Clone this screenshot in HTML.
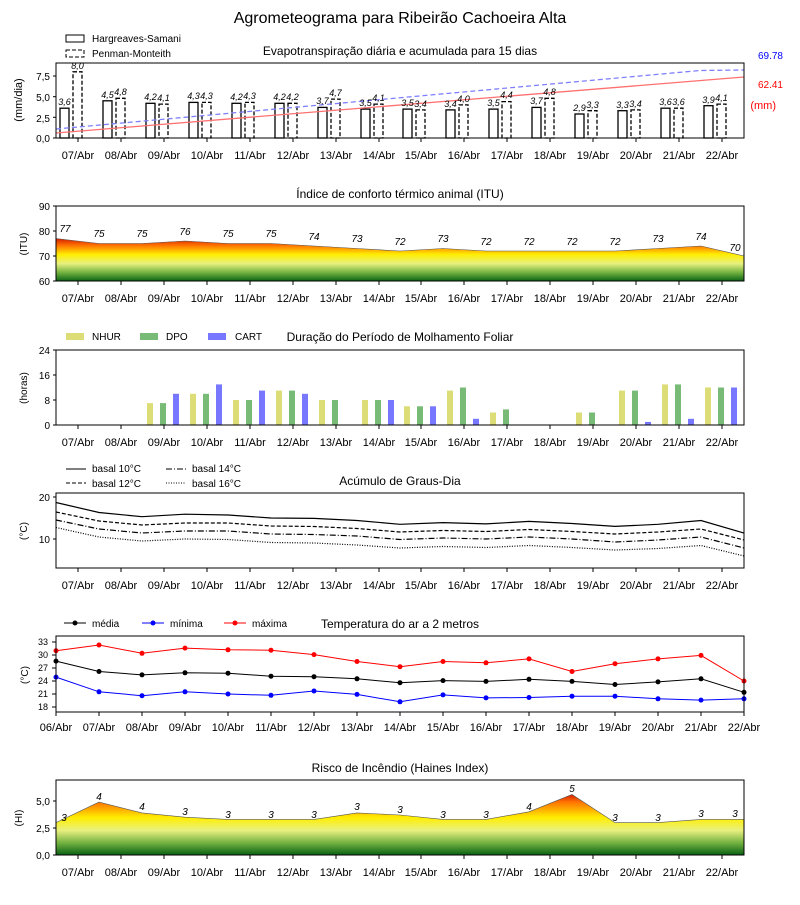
<!DOCTYPE html>
<html><head><meta charset="utf-8"><style>
body{margin:0;background:#fff}
svg{font-family:"Liberation Sans","DejaVu Sans",sans-serif}
</style></head><body>
<svg width="800" height="900" viewBox="0 0 800 900" xmlns="http://www.w3.org/2000/svg">
<defs>
<linearGradient id="g2" gradientUnits="userSpaceOnUse" x1="0" y1="236" x2="0" y2="282">
<stop offset="0" stop-color="#c00000"/><stop offset="0.2" stop-color="#ff7000"/><stop offset="0.4" stop-color="#ffee00"/><stop offset="0.6" stop-color="#e8f080"/><stop offset="0.8" stop-color="#70b040"/><stop offset="1" stop-color="#005a10"/>
</linearGradient>
<linearGradient id="g6" gradientUnits="userSpaceOnUse" x1="0" y1="792" x2="0" y2="856">
<stop offset="0" stop-color="#c00000"/><stop offset="0.15" stop-color="#ff7000"/><stop offset="0.4" stop-color="#ffee00"/><stop offset="0.6" stop-color="#e8f080"/><stop offset="0.8" stop-color="#70b040"/><stop offset="1" stop-color="#005a10"/>
</linearGradient>
</defs>
<text x="400" y="23" font-size="16" text-anchor="middle">Agrometeograma para Ribeirão Cachoeira Alta</text>

<!-- Panel 1 -->
<text x="400" y="55" font-size="12" text-anchor="middle">Evapotranspiração diária e acumulada para 15 dias</text>
<rect x="66" y="35" width="18" height="7" fill="none" stroke="#000"/>
<text x="92" y="42" font-size="10">Hargreaves-Samani</text>
<rect x="66" y="50" width="18" height="7" fill="none" stroke="#000" stroke-dasharray="4,2"/>
<text x="92" y="57" font-size="10">Penman-Monteith</text>
<g fill="#fff" stroke="#000" stroke-width="1.3">
<rect x="60" y="108.2" width="9" height="29.8"/><rect x="103" y="100.8" width="9" height="37.2"/><rect x="146" y="103.3" width="9" height="34.7"/><rect x="189" y="102.4" width="9" height="35.6"/><rect x="232" y="103.3" width="9" height="34.7"/><rect x="275" y="103.3" width="9" height="34.7"/><rect x="318" y="107.4" width="9" height="30.6"/><rect x="361" y="109.1" width="9" height="28.9"/><rect x="403" y="109.1" width="9" height="28.9"/><rect x="446" y="109.9" width="9" height="28.1"/><rect x="489" y="109.1" width="9" height="28.9"/><rect x="532" y="107.4" width="9" height="30.6"/><rect x="575" y="114" width="9" height="24"/><rect x="618" y="110.7" width="9" height="27.3"/><rect x="661" y="108.2" width="9" height="29.8"/><rect x="704" y="105.7" width="9" height="32.3"/>
</g>
<g fill="#fff" stroke="#000" stroke-width="1.3" stroke-dasharray="4,2">
<rect x="73" y="71.8" width="9" height="66.2"/><rect x="116" y="98.3" width="9" height="39.7"/><rect x="159" y="104.1" width="9" height="33.9"/><rect x="202" y="102.4" width="9" height="35.6"/><rect x="245" y="102.4" width="9" height="35.6"/><rect x="288" y="103.3" width="9" height="34.7"/><rect x="331" y="99.1" width="9" height="38.9"/><rect x="374" y="104.1" width="9" height="33.9"/><rect x="416" y="109.9" width="9" height="28.1"/><rect x="459" y="104.9" width="9" height="33.1"/><rect x="502" y="101.6" width="9" height="36.4"/><rect x="545" y="98.3" width="9" height="39.7"/><rect x="588" y="110.7" width="9" height="27.3"/><rect x="631" y="109.9" width="9" height="28.1"/><rect x="674" y="108.2" width="9" height="29.8"/><rect x="717" y="104.1" width="9" height="33.9"/>
</g>
<polyline points="56,133 744,77" fill="none" stroke="#ff7070" stroke-width="1.3"/>
<polyline points="56,129 700,70.5 744,70" fill="none" stroke="#8080ff" stroke-width="1.3" stroke-dasharray="5,3"/>
<g font-size="9" font-style="italic" text-anchor="middle">
<text x="64.5" y="105">3,6</text><text x="107.5" y="98">4,5</text><text x="150.5" y="100">4,2</text><text x="193.5" y="99">4,3</text><text x="236.5" y="100">4,2</text><text x="279.5" y="100">4,2</text><text x="322.5" y="104">3,7</text><text x="365.5" y="106">3,5</text><text x="407.5" y="106">3,5</text><text x="450.5" y="107">3,4</text><text x="493.5" y="106">3,5</text><text x="536.5" y="104">3,7</text><text x="579.5" y="111">2,9</text><text x="622.5" y="108">3,3</text><text x="665.5" y="105">3,6</text><text x="708.5" y="103">3,9</text>
<text x="77.5" y="69">8,0</text><text x="120.5" y="95">4,8</text><text x="163.5" y="101">4,1</text><text x="206.5" y="99">4,3</text><text x="249.5" y="99">4,3</text><text x="292.5" y="100">4,2</text><text x="335.5" y="96">4,7</text><text x="378.5" y="101">4,1</text><text x="420.5" y="107">3,4</text><text x="463.5" y="102">4,0</text><text x="506.5" y="98">4,4</text><text x="549.5" y="95">4,8</text><text x="592.5" y="108">3,3</text><text x="635.5" y="107">3,4</text><text x="678.5" y="105">3,6</text><text x="721.5" y="101">4,1</text>
</g>
<rect x="56" y="63" width="688" height="75" fill="none" stroke="#000"/>
<g font-size="10" text-anchor="end"><text x="50" y="80">7,5</text><text x="50" y="101">5,0</text><text x="50" y="122">2,5</text><text x="50" y="142">0,0</text></g>
<g stroke="#000"><line x1="53" y1="76" x2="56" y2="76"/><line x1="53" y1="96.7" x2="56" y2="96.7"/><line x1="53" y1="117.3" x2="56" y2="117.3"/><line x1="53" y1="138" x2="56" y2="138"/></g>
<text transform="translate(22,100) rotate(-90)" font-size="11" text-anchor="middle">(mm/dia)</text>
<text x="783" y="59" font-size="10" fill="#0000ff" text-anchor="end">69.78</text>
<text x="783" y="88" font-size="10" fill="#ff0000" text-anchor="end">62.41</text>
<text x="776" y="109" font-size="11" fill="#ff0000" text-anchor="end">(mm)</text>

<!-- Panel 2 -->
<text x="400" y="198" font-size="12" text-anchor="middle">Índice de conforto térmico animal (ITU)</text>
<polygon points="56,238.5 99,243.5 142,243.5 185,241 228,243.5 271,243.5 314,246 357,248.5 400,251 443,248.5 486,251 529,251 572,251 615,251 658,248.5 701,246 744,256 744,281 56,281" fill="url(#g2)"/>
<polyline points="56,238.5 99,243.5 142,243.5 185,241 228,243.5 271,243.5 314,246 357,248.5 400,251 443,248.5 486,251 529,251 572,251 615,251 658,248.5 701,246 744,256" fill="none" stroke="#555" stroke-width="0.6"/>
<g font-size="10" font-style="italic" text-anchor="middle">
<text x="65" y="232">77</text><text x="99" y="237">75</text><text x="142" y="237">75</text><text x="185" y="235">76</text><text x="228" y="237">75</text><text x="271" y="237">75</text><text x="314" y="240">74</text><text x="357" y="242">73</text><text x="400" y="245">72</text><text x="443" y="242">73</text><text x="486" y="245">72</text><text x="529" y="245">72</text><text x="572" y="245">72</text><text x="615" y="245">72</text><text x="658" y="242">73</text><text x="701" y="240">74</text><text x="735" y="251">70</text>
</g>
<rect x="56" y="206" width="688" height="75" fill="none" stroke="#000"/>
<g font-size="10" text-anchor="end"><text x="50" y="210">90</text><text x="50" y="235">80</text><text x="50" y="260">70</text><text x="50" y="285">60</text></g>
<g stroke="#000"><line x1="53" y1="206" x2="56" y2="206"/><line x1="53" y1="231" x2="56" y2="231"/><line x1="53" y1="256" x2="56" y2="256"/><line x1="53" y1="281" x2="56" y2="281"/></g>
<text transform="translate(27,244) rotate(-90)" font-size="10" text-anchor="middle">(ITU)</text>

<!-- Panel 3 -->
<text x="400" y="341" font-size="12" text-anchor="middle">Duração do Período de Molhamento Foliar</text>
<rect x="66" y="333" width="18" height="7" fill="#dddd77"/><text x="92" y="340" font-size="10">NHUR</text>
<rect x="140" y="333" width="18" height="7" fill="#77bb77"/><text x="166" y="340" font-size="10">DPO</text>
<rect x="208" y="333" width="18" height="7" fill="#7777ff"/><text x="235" y="340" font-size="10">CART</text>
<g fill="#dddd77">
<rect x="147" y="403.1" width="6" height="21.9"/><rect x="190" y="393.8" width="6" height="31.2"/><rect x="233" y="400" width="6" height="25"/><rect x="276" y="390.6" width="6" height="34.4"/><rect x="319" y="400" width="6" height="25"/><rect x="362" y="400" width="6" height="25"/><rect x="404" y="406.3" width="6" height="18.7"/><rect x="447" y="390.6" width="6" height="34.4"/><rect x="490" y="412.5" width="6" height="12.5"/><rect x="576" y="412.5" width="6" height="12.5"/><rect x="619" y="390.6" width="6" height="34.4"/><rect x="662" y="384.4" width="6" height="40.6"/><rect x="705" y="387.5" width="6" height="37.5"/>
</g>
<g fill="#77bb77">
<rect x="160" y="403.1" width="6" height="21.9"/><rect x="203" y="393.8" width="6" height="31.2"/><rect x="246" y="400" width="6" height="25"/><rect x="289" y="390.6" width="6" height="34.4"/><rect x="332" y="400" width="6" height="25"/><rect x="375" y="400" width="6" height="25"/><rect x="417" y="406.3" width="6" height="18.7"/><rect x="460" y="387.5" width="6" height="37.5"/><rect x="503" y="409.4" width="6" height="15.6"/><rect x="589" y="412.5" width="6" height="12.5"/><rect x="632" y="390.6" width="6" height="34.4"/><rect x="675" y="384.4" width="6" height="40.6"/><rect x="718" y="387.5" width="6" height="37.5"/>
</g>
<g fill="#7777ff">
<rect x="173" y="393.8" width="6" height="31.2"/><rect x="216" y="384.4" width="6" height="40.6"/><rect x="259" y="390.6" width="6" height="34.4"/><rect x="302" y="393.8" width="6" height="31.2"/><rect x="388" y="400" width="6" height="25"/><rect x="430" y="406.3" width="6" height="18.7"/><rect x="473" y="418.8" width="6" height="6.2"/><rect x="645" y="421.9" width="6" height="3.1"/><rect x="688" y="418.8" width="6" height="6.2"/><rect x="731" y="387.5" width="6" height="37.5"/>
</g>
<rect x="56" y="350" width="688" height="75" fill="none" stroke="#000"/>
<g font-size="10" text-anchor="end"><text x="50" y="354">24</text><text x="50" y="379">16</text><text x="50" y="404">8</text><text x="50" y="429">0</text></g>
<g stroke="#000"><line x1="53" y1="350" x2="56" y2="350"/><line x1="53" y1="375" x2="56" y2="375"/><line x1="53" y1="400" x2="56" y2="400"/><line x1="53" y1="425" x2="56" y2="425"/></g>
<text transform="translate(27,388) rotate(-90)" font-size="10" text-anchor="middle">(horas)</text>

<!-- Panel 4 -->
<text x="400" y="485" font-size="12" text-anchor="middle">Acúmulo de Graus-Dia</text>
<line x1="66" y1="469" x2="86" y2="469" stroke="#000"/><text x="92" y="472" font-size="10">basal 10°C</text>
<line x1="66" y1="483" x2="86" y2="483" stroke="#000" stroke-dasharray="4,2"/><text x="92" y="487" font-size="10">basal 12°C</text>
<line x1="166" y1="469" x2="186" y2="469" stroke="#000" stroke-dasharray="6,2,1,2"/><text x="192" y="472" font-size="10">basal 14°C</text>
<line x1="166" y1="483" x2="186" y2="483" stroke="#000" stroke-dasharray="1,1.5"/><text x="192" y="487" font-size="10">basal 16°C</text>
<g fill="none" stroke="#000" stroke-width="1.2">
<polyline points="56,502.5 99,512.5 142,516.7 185,514.2 228,515 271,518 314,518.4 357,520.5 400,524.3 443,522.6 486,523.9 529,521.4 572,523.5 615,526.4 658,524.3 701,520.5 744,533.1"/>
<polyline stroke-dasharray="4,2" points="56,512 99,521 142,525 185,523 228,523 271,526 314,526.5 357,528.5 400,532 443,530.5 486,531.5 529,529.5 572,531.5 615,534 658,532 701,529 744,540"/>
<polyline stroke-dasharray="6,2,1,2" points="56,520 99,529 142,533 185,531 228,531 271,534 314,534.5 357,536 400,539.5 443,538 486,539 529,537 572,539 615,542 658,540 701,537 744,548"/>
<polyline stroke-dasharray="1,1.5" points="56,527.5 99,537 142,541 185,539 228,539.5 271,542.5 314,543 357,545 400,548 443,546.5 486,547.5 529,545.5 572,547.5 615,550 658,548.5 701,545.5 744,556"/>
</g>
<rect x="56" y="493" width="688" height="75" fill="none" stroke="#000"/>
<g font-size="10" text-anchor="end"><text x="50" y="501">20</text><text x="50" y="543">10</text></g>
<g stroke="#000"><line x1="53" y1="497" x2="56" y2="497"/><line x1="53" y1="539" x2="56" y2="539"/></g>
<text transform="translate(27,531) rotate(-90)" font-size="10" text-anchor="middle">(°C)</text>

<!-- Panel 5 -->
<text x="400" y="628" font-size="12" text-anchor="middle">Temperatura do ar a 2 metros</text>
<line x1="64" y1="623" x2="86" y2="623" stroke="#000"/><circle cx="75" cy="623" r="2.5"/><text x="92" y="627" font-size="10">média</text>
<line x1="142" y1="623" x2="164" y2="623" stroke="#00f"/><circle cx="153" cy="623" r="2.5" fill="#00f"/><text x="170" y="627" font-size="10">mínima</text>
<line x1="224" y1="623" x2="246" y2="623" stroke="#f00"/><circle cx="235" cy="623" r="2.5" fill="#f00"/><text x="252" y="627" font-size="10">máxima</text>
<g fill="none" stroke-width="1">
<polyline stroke="#f00" points="56,650.7 99,645 142,653.3 185,648.1 228,649.8 271,650.2 314,654.6 357,661.5 400,666.7 443,661.5 486,662.8 529,658.9 572,671.5 615,663.7 658,658.9 701,655.4 744,681"/>
<polyline stroke="#000" points="56,661.1 99,671.5 142,674.9 185,672.8 228,673.2 271,676.2 314,676.7 357,678.8 400,682.7 443,680.6 486,681.4 529,679.3 572,681.4 615,684.5 658,681.9 701,678.8 744,692.3"/>
<polyline stroke="#00f" points="56,677.1 99,691.8 142,695.7 185,691.8 228,694 271,695.3 314,691 357,694.4 400,701.8 443,694.9 486,697.9 529,697.5 572,696.2 615,696.2 658,698.8 701,700.1 744,698.8"/>
</g>
<g fill="#f00"><circle cx="56" cy="650.7" r="2.5"/><circle cx="99" cy="645" r="2.5"/><circle cx="142" cy="653.3" r="2.5"/><circle cx="185" cy="648.1" r="2.5"/><circle cx="228" cy="649.8" r="2.5"/><circle cx="271" cy="650.2" r="2.5"/><circle cx="314" cy="654.6" r="2.5"/><circle cx="357" cy="661.5" r="2.5"/><circle cx="400" cy="666.7" r="2.5"/><circle cx="443" cy="661.5" r="2.5"/><circle cx="486" cy="662.8" r="2.5"/><circle cx="529" cy="658.9" r="2.5"/><circle cx="572" cy="671.5" r="2.5"/><circle cx="615" cy="663.7" r="2.5"/><circle cx="658" cy="658.9" r="2.5"/><circle cx="701" cy="655.4" r="2.5"/><circle cx="744" cy="681" r="2.5"/></g>
<g fill="#000"><circle cx="56" cy="661.1" r="2.5"/><circle cx="99" cy="671.5" r="2.5"/><circle cx="142" cy="674.9" r="2.5"/><circle cx="185" cy="672.8" r="2.5"/><circle cx="228" cy="673.2" r="2.5"/><circle cx="271" cy="676.2" r="2.5"/><circle cx="314" cy="676.7" r="2.5"/><circle cx="357" cy="678.8" r="2.5"/><circle cx="400" cy="682.7" r="2.5"/><circle cx="443" cy="680.6" r="2.5"/><circle cx="486" cy="681.4" r="2.5"/><circle cx="529" cy="679.3" r="2.5"/><circle cx="572" cy="681.4" r="2.5"/><circle cx="615" cy="684.5" r="2.5"/><circle cx="658" cy="681.9" r="2.5"/><circle cx="701" cy="678.8" r="2.5"/><circle cx="744" cy="692.3" r="2.5"/></g>
<g fill="#00f"><circle cx="56" cy="677.1" r="2.5"/><circle cx="99" cy="691.8" r="2.5"/><circle cx="142" cy="695.7" r="2.5"/><circle cx="185" cy="691.8" r="2.5"/><circle cx="228" cy="694" r="2.5"/><circle cx="271" cy="695.3" r="2.5"/><circle cx="314" cy="691" r="2.5"/><circle cx="357" cy="694.4" r="2.5"/><circle cx="400" cy="701.8" r="2.5"/><circle cx="443" cy="694.9" r="2.5"/><circle cx="486" cy="697.9" r="2.5"/><circle cx="529" cy="697.5" r="2.5"/><circle cx="572" cy="696.2" r="2.5"/><circle cx="615" cy="696.2" r="2.5"/><circle cx="658" cy="698.8" r="2.5"/><circle cx="701" cy="700.1" r="2.5"/><circle cx="744" cy="698.8" r="2.5"/></g>
<rect x="56" y="636" width="688" height="76" fill="none" stroke="#000"/>
<g font-size="9" text-anchor="end"><text x="48" y="645">33</text><text x="48" y="658">30</text><text x="48" y="671">27</text><text x="48" y="684">24</text><text x="48" y="697">21</text><text x="48" y="710">18</text></g>
<g stroke="#000"><line x1="52" y1="642" x2="56" y2="642"/><line x1="52" y1="655" x2="56" y2="655"/><line x1="52" y1="668" x2="56" y2="668"/><line x1="52" y1="681" x2="56" y2="681"/><line x1="52" y1="694" x2="56" y2="694"/><line x1="52" y1="707" x2="56" y2="707"/></g>
<g stroke="#000"><line x1="56" y1="712" x2="56" y2="716"/><line x1="99" y1="712" x2="99" y2="716"/><line x1="142" y1="712" x2="142" y2="716"/><line x1="185" y1="712" x2="185" y2="716"/><line x1="228" y1="712" x2="228" y2="716"/><line x1="271" y1="712" x2="271" y2="716"/><line x1="314" y1="712" x2="314" y2="716"/><line x1="357" y1="712" x2="357" y2="716"/><line x1="400" y1="712" x2="400" y2="716"/><line x1="443" y1="712" x2="443" y2="716"/><line x1="486" y1="712" x2="486" y2="716"/><line x1="529" y1="712" x2="529" y2="716"/><line x1="572" y1="712" x2="572" y2="716"/><line x1="615" y1="712" x2="615" y2="716"/><line x1="658" y1="712" x2="658" y2="716"/><line x1="701" y1="712" x2="701" y2="716"/><line x1="744" y1="712" x2="744" y2="716"/></g>
<text transform="translate(28,675) rotate(-90)" font-size="10" text-anchor="middle">(°C)</text>
<g font-size="11" text-anchor="middle">
<text x="56" y="731">06/Abr</text><text x="99" y="731">07/Abr</text><text x="142" y="731">08/Abr</text><text x="185" y="731">09/Abr</text><text x="228" y="731">10/Abr</text><text x="271" y="731">11/Abr</text><text x="314" y="731">12/Abr</text><text x="357" y="731">13/Abr</text><text x="400" y="731">14/Abr</text><text x="443" y="731">15/Abr</text><text x="486" y="731">16/Abr</text><text x="529" y="731">17/Abr</text><text x="572" y="731">18/Abr</text><text x="615" y="731">19/Abr</text><text x="658" y="731">20/Abr</text><text x="701" y="731">21/Abr</text><text x="744" y="731">22/Abr</text>
</g>

<!-- Panel 6 -->
<text x="400" y="772" font-size="12" text-anchor="middle">Risco de Incêndio (Haines Index)</text>
<polygon points="56,822.6 99,802.1 142,812.9 185,817.2 228,819.4 271,819.4 314,819.4 357,812.9 400,815 443,819.4 486,819.4 529,811.8 572,794.5 615,822.6 658,822.6 701,819.4 744,819.4 744,855 56,855" fill="url(#g6)"/>
<polyline points="56,822.6 99,802.1 142,812.9 185,817.2 228,819.4 271,819.4 314,819.4 357,812.9 400,815 443,819.4 486,819.4 529,811.8 572,794.5 615,822.6 658,822.6 701,819.4 744,819.4" fill="none" stroke="#555" stroke-width="0.6"/>
<g font-size="10" font-style="italic" text-anchor="middle">
<text x="64" y="821">3</text><text x="99" y="800">4</text><text x="142" y="810">4</text><text x="185" y="815">3</text><text x="228" y="818">3</text><text x="271" y="818">3</text><text x="314" y="818">3</text><text x="357" y="810">3</text><text x="400" y="813">3</text><text x="443" y="818">3</text><text x="486" y="818">3</text><text x="529" y="810">4</text><text x="572" y="792">5</text><text x="615" y="821">3</text><text x="658" y="821">3</text><text x="701" y="817">3</text><text x="735" y="817">3</text>
</g>
<rect x="56" y="780" width="688" height="75" fill="none" stroke="#000"/>
<g font-size="10" text-anchor="end"><text x="50" y="805">5,0</text><text x="50" y="832">2,5</text><text x="50" y="859">0,0</text></g>
<g stroke="#000"><line x1="53" y1="801" x2="56" y2="801"/><line x1="53" y1="828" x2="56" y2="828"/><line x1="53" y1="855" x2="56" y2="855"/></g>
<text transform="translate(22,818) rotate(-90)" font-size="10" text-anchor="middle">(HI)</text>

<!-- x ticks for panels 1,2,3,4,6 -->
<g id="xt" stroke="#000">
<path d="M78 138v4M121 138v4M164 138v4M207 138v4M250 138v4M293 138v4M336 138v4M379 138v4M421 138v4M464 138v4M507 138v4M550 138v4M593 138v4M636 138v4M679 138v4M722 138v4"/>
<path d="M78 281v4M121 281v4M164 281v4M207 281v4M250 281v4M293 281v4M336 281v4M379 281v4M421 281v4M464 281v4M507 281v4M550 281v4M593 281v4M636 281v4M679 281v4M722 281v4"/>
<path d="M78 425v4M121 425v4M164 425v4M207 425v4M250 425v4M293 425v4M336 425v4M379 425v4M421 425v4M464 425v4M507 425v4M550 425v4M593 425v4M636 425v4M679 425v4M722 425v4"/>
<path d="M78 568v4M121 568v4M164 568v4M207 568v4M250 568v4M293 568v4M336 568v4M379 568v4M421 568v4M464 568v4M507 568v4M550 568v4M593 568v4M636 568v4M679 568v4M722 568v4"/>
<path d="M78 855v4M121 855v4M164 855v4M207 855v4M250 855v4M293 855v4M336 855v4M379 855v4M421 855v4M464 855v4M507 855v4M550 855v4M593 855v4M636 855v4M679 855v4M722 855v4"/>
</g>

<g font-size="11" text-anchor="middle">
<text x="78" y="159">07/Abr</text><text x="121" y="159">08/Abr</text><text x="164" y="159">09/Abr</text><text x="207" y="159">10/Abr</text><text x="250" y="159">11/Abr</text><text x="293" y="159">12/Abr</text><text x="336" y="159">13/Abr</text><text x="379" y="159">14/Abr</text><text x="421" y="159">15/Abr</text><text x="464" y="159">16/Abr</text><text x="507" y="159">17/Abr</text><text x="550" y="159">18/Abr</text><text x="593" y="159">19/Abr</text><text x="636" y="159">20/Abr</text><text x="679" y="159">21/Abr</text><text x="722" y="159">22/Abr</text>
</g>
<g font-size="11" text-anchor="middle">
<text x="78" y="302">07/Abr</text><text x="121" y="302">08/Abr</text><text x="164" y="302">09/Abr</text><text x="207" y="302">10/Abr</text><text x="250" y="302">11/Abr</text><text x="293" y="302">12/Abr</text><text x="336" y="302">13/Abr</text><text x="379" y="302">14/Abr</text><text x="421" y="302">15/Abr</text><text x="464" y="302">16/Abr</text><text x="507" y="302">17/Abr</text><text x="550" y="302">18/Abr</text><text x="593" y="302">19/Abr</text><text x="636" y="302">20/Abr</text><text x="679" y="302">21/Abr</text><text x="722" y="302">22/Abr</text>
</g>
<g font-size="11" text-anchor="middle">
<text x="78" y="446">07/Abr</text><text x="121" y="446">08/Abr</text><text x="164" y="446">09/Abr</text><text x="207" y="446">10/Abr</text><text x="250" y="446">11/Abr</text><text x="293" y="446">12/Abr</text><text x="336" y="446">13/Abr</text><text x="379" y="446">14/Abr</text><text x="421" y="446">15/Abr</text><text x="464" y="446">16/Abr</text><text x="507" y="446">17/Abr</text><text x="550" y="446">18/Abr</text><text x="593" y="446">19/Abr</text><text x="636" y="446">20/Abr</text><text x="679" y="446">21/Abr</text><text x="722" y="446">22/Abr</text>
</g>
<g font-size="11" text-anchor="middle">
<text x="78" y="589">07/Abr</text><text x="121" y="589">08/Abr</text><text x="164" y="589">09/Abr</text><text x="207" y="589">10/Abr</text><text x="250" y="589">11/Abr</text><text x="293" y="589">12/Abr</text><text x="336" y="589">13/Abr</text><text x="379" y="589">14/Abr</text><text x="421" y="589">15/Abr</text><text x="464" y="589">16/Abr</text><text x="507" y="589">17/Abr</text><text x="550" y="589">18/Abr</text><text x="593" y="589">19/Abr</text><text x="636" y="589">20/Abr</text><text x="679" y="589">21/Abr</text><text x="722" y="589">22/Abr</text>
</g>
<g font-size="11" text-anchor="middle">
<text x="78" y="876">07/Abr</text><text x="121" y="876">08/Abr</text><text x="164" y="876">09/Abr</text><text x="207" y="876">10/Abr</text><text x="250" y="876">11/Abr</text><text x="293" y="876">12/Abr</text><text x="336" y="876">13/Abr</text><text x="379" y="876">14/Abr</text><text x="421" y="876">15/Abr</text><text x="464" y="876">16/Abr</text><text x="507" y="876">17/Abr</text><text x="550" y="876">18/Abr</text><text x="593" y="876">19/Abr</text><text x="636" y="876">20/Abr</text><text x="679" y="876">21/Abr</text><text x="722" y="876">22/Abr</text>
</g>
</svg>
</body></html>
